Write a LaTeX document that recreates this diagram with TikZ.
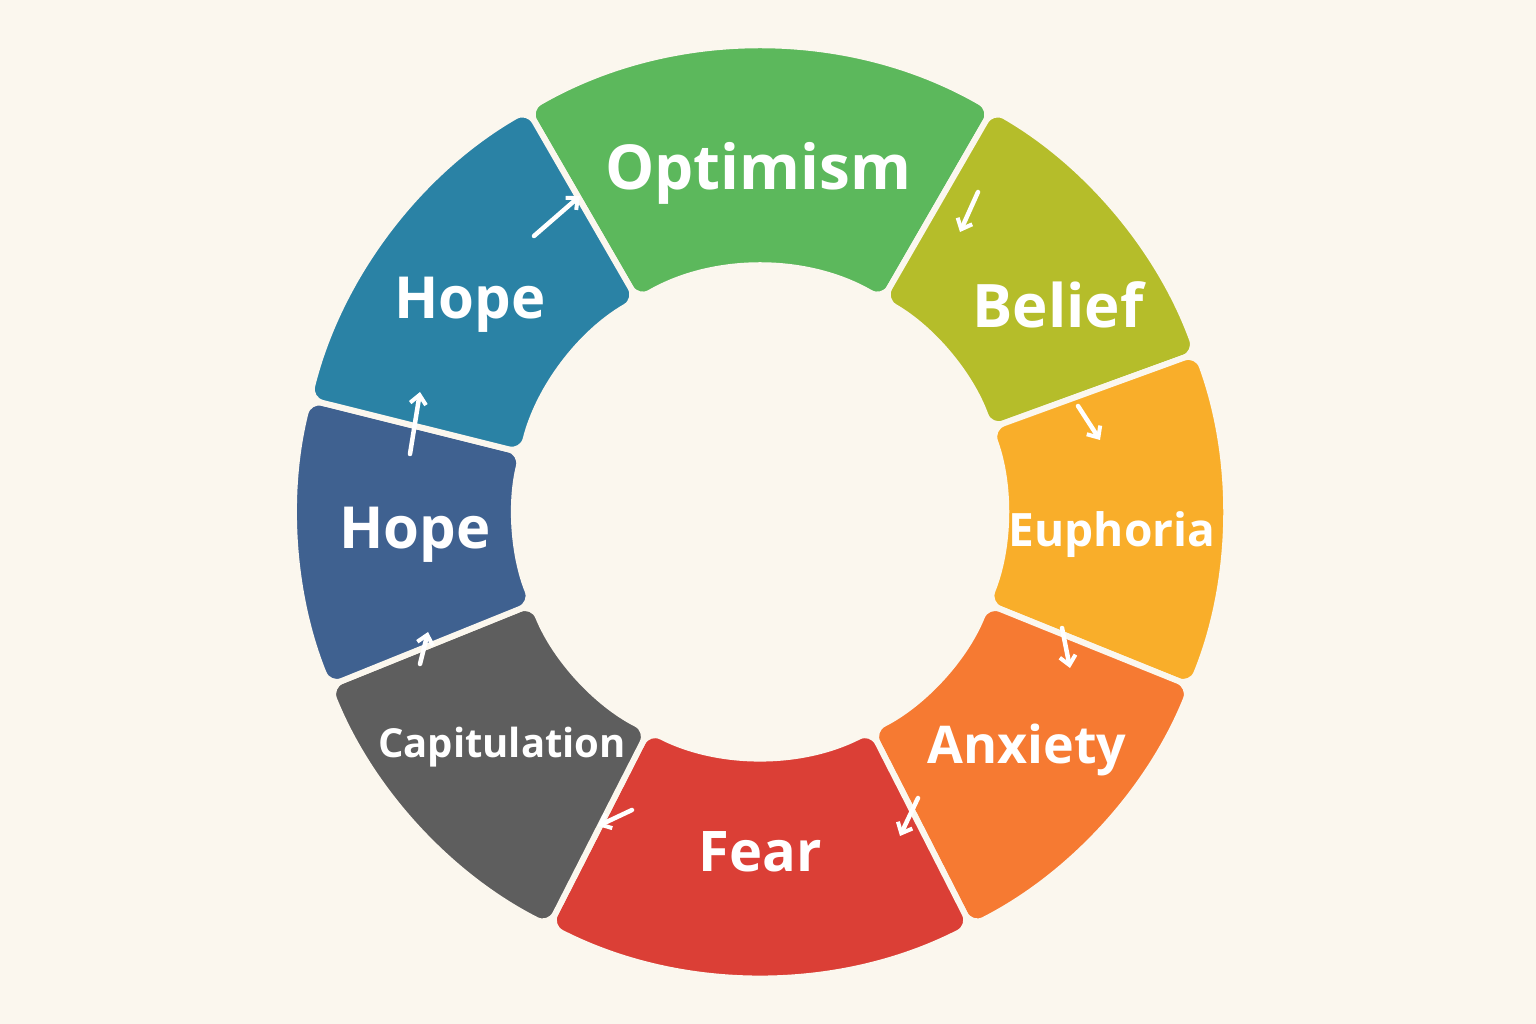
\documentclass[tikz,border=0pt]{standalone}
\usepackage{fontspec}
\setmainfont{Open Sans}
\usetikzlibrary{arrows.meta}
\definecolor{bg}{HTML}{FBF7EE}
\definecolor{cOpt}{HTML}{5CB85C}
\definecolor{cBel}{HTML}{B5BD2A}
\definecolor{cEup}{HTML}{F9AE2A}
\definecolor{cAnx}{HTML}{F67A32}
\definecolor{cFear}{HTML}{DB3F36}
\definecolor{cCap}{HTML}{5E5E5E}
\definecolor{cHopeA}{HTML}{3F6190}
\definecolor{cHopeB}{HTML}{2A82A5}
\tikzset{
 seg/.style={fill=#1, draw=bg, line width=6pt, rounded corners=14pt},
 lab/.style={text=white, font=\bfseries\fontsize{#1}{#1}\selectfont},
 arr/.style={draw=white, line width=4.5pt, -{Straight Barb[length=9pt,width=16pt,line width=4pt]}, line cap=round}
}
\begin{document}
\begin{tikzpicture}[x=1pt,y=1pt]
\fill[bg] (0,0) rectangle (1536,1024);
\useasboundingbox (0,0) rectangle (1536,1024);
\begin{scope}[shift={(760,512)}]
\def\R{465}\def\r{245}
\foreach \a/\b/\c in {120/60/cOpt,60/20/cBel,20/-22/cEup,-22/-63/cAnx,-63/-117/cFear,-117/-158/cCap,-158/-194/cHopeA,166/120/cHopeB}{
  \path[seg=\c] (\a:\R) arc[start angle=\a, end angle=\b, radius=\R] -- (\b:\r) arc[start angle=\b, end angle=\a, radius=\r] -- cycle;
}
\end{scope}
\node[lab=62] (opt) at (758,851) {Optimism};
\node[lab=60] (bel) at (1058,719) {Belief};
\node[lab=46] (eup) at (1112,489) {Euphoria};
\node[lab=52] (anx) at (1027,274) {Anxiety};
\node[lab=56] (fear) at (760,172) {Fear};
\node[lab=40] (cap) at (502,277) {Capitulation};
\node[lab=58] (hopeA) at (415,489) {Hope};
\node[lab=58] (hopeB) at (470,719) {Hope};
\coordinate (a1s) at (534,788); \coordinate (a1e) at (580,828);
\coordinate (a2s) at (410,570); \coordinate (a2e) at (420,632);
\coordinate (a3s) at (978,832); \coordinate (a3e) at (960,792);
\coordinate (a4s) at (1078,618); \coordinate (a4e) at (1100,584);
\coordinate (a5s) at (1062,396); \coordinate (a5e) at (1070,356);
\coordinate (a6s) at (918,226); \coordinate (a6e) at (900,188);
\coordinate (a7s) at (632,214); \coordinate (a7e) at (598,198);
\coordinate (a8s) at (420,360); \coordinate (a8e) at (428,392);
\foreach \i in {1,...,8}{\draw[arr] (a\i s) -- (a\i e);}
\end{tikzpicture}
\end{document}
